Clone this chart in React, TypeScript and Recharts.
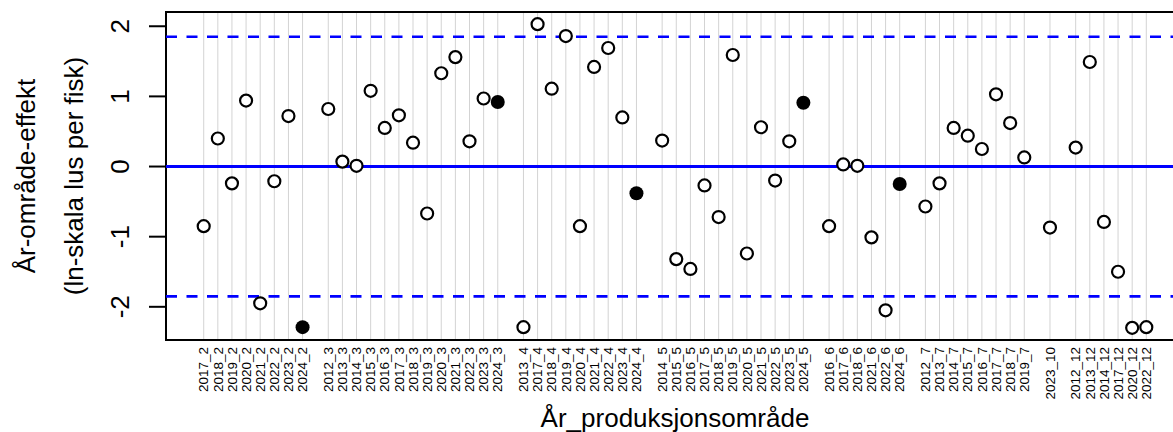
import React from "react";
import {
  CartesianGrid,
  Label,
  ReferenceArea,
  ReferenceLine,
  Scatter,
  ScatterChart,
  XAxis,
  YAxis,
} from "recharts";

// year_area labels, in plotting order
const labels = [
  "2017_2", "2018_2", "2019_2", "2020_2", "2021_2", "2022_2", "2023_2", "2024_2",
  "2012_3", "2013_3", "2014_3", "2015_3", "2016_3", "2017_3", "2018_3", "2019_3",
  "2020_3", "2021_3", "2022_3", "2023_3", "2024_3",
  "2013_4", "2017_4", "2018_4", "2019_4", "2020_4", "2021_4", "2022_4", "2023_4", "2024_4",
  "2014_5", "2015_5", "2016_5", "2017_5", "2018_5", "2019_5", "2020_5", "2021_5",
  "2022_5", "2023_5", "2024_5",
  "2016_6", "2017_6", "2018_6", "2021_6", "2022_6", "2024_6",
  "2012_7", "2013_7", "2014_7", "2015_7", "2016_7", "2017_7", "2018_7", "2019_7",
  "2023_10",
  "2012_12", "2013_12", "2014_12", "2017_12", "2020_12", "2022_12",
];

// estimated year-area effect (ln scale)
const effects = [
  -0.85, 0.40, -0.24, 0.94, -1.95, -0.21, 0.72, -2.29,
  0.82, 0.07, 0.01, 1.08, 0.55, 0.73, 0.34, -0.67,
  1.33, 1.56, 0.36, 0.97, 0.92,
  -2.29, 2.03, 1.11, 1.86, -0.85, 1.42, 1.69, 0.70, -0.38,
  0.37, -1.32, -1.46, -0.27, -0.72, 1.59, -1.24, 0.56,
  -0.20, 0.36, 0.91,
  -0.85, 0.03, 0.01, -1.01, -2.05, -0.25,
  -0.57, -0.24, 0.55, 0.44, 0.25, 1.03, 0.62, 0.13,
  -0.87,
  0.27, 1.49, -0.79, -1.50, -2.30, -2.29,
];

// current year, drawn as filled points
const highlighted = ["2024_2", "2024_3", "2024_4", "2024_5", "2024_6"];

const limitUpper = 1.85;
const limitLower = -1.85;
const yTicks = [-2, -1, 0, 1, 2];

const GROUP_GAP = 0.82;
const PLOT_LEFT = 166;
const PLOT_TOP = 12;
const PLOT_BOTTOM = 340;
const HEIGHT = 432;
const WIDTH = 1200;
const FONT = "'Liberation Sans', Arial, sans-serif";
const BLUE = "#0000ff";

// x positions: one unit per point, with extra space where the area changes
const positions: number[] = [];
labels.forEach((lab, i) => {
  if (i === 0) {
    positions.push(0);
    return;
  }
  const prevArea = labels[i - 1].split("_")[1];
  const area = lab.split("_")[1];
  positions.push(positions[i - 1] + 1 + (area !== prevArea ? GROUP_GAP : 0));
});

const data = labels.map((lab, i) => ({
  x: positions[i],
  y: effects[i],
  label: lab,
  filled: highlighted.includes(lab),
}));

// R-style 4% padding on both axes
const xMax = positions[positions.length - 1];
const xPad = xMax * 0.04;
const xDomain: [number, number] = [-xPad, xMax + xPad];
const yMin = Math.min(...effects);
const yMax = Math.max(...effects);
const yPad = (yMax - yMin) * 0.04;
const yDomain: [number, number] = [yMin - yPad, yMax + yPad];

const labelFor = (v: number) => labels[positions.indexOf(v)] ?? "";

function XTick(props: any) {
  const { x, payload } = props;
  const y = PLOT_BOTTOM + 7;
  return (
    <text
      x={x}
      y={y}
      dy="0.35em"
      transform={`rotate(-90, ${x}, ${y})`}
      textAnchor="end"
      fontSize={13.5}
      fontFamily={FONT}
      fill="#000"
    >
      {labelFor(payload.value)}
    </text>
  );
}

function YTick(props: any) {
  const { y, payload } = props;
  const x = PLOT_LEFT - 37;
  return (
    <text
      x={x}
      y={y}
      transform={`rotate(-90, ${x}, ${y})`}
      textAnchor="middle"
      fontSize={26}
      fontFamily={FONT}
      fill="#000"
    >
      {payload.value}
    </text>
  );
}

function YTitle() {
  const cy = (PLOT_TOP + PLOT_BOTTOM) / 2;
  return (
    <g fontFamily={FONT} fontSize={26} fill="#000">
      <text x={35} y={cy} transform={`rotate(-90, 35, ${cy})`} textAnchor="middle">
        År-område-effekt
      </text>
      <text x={83} y={cy} transform={`rotate(-90, 83, ${cy})`} textAnchor="middle">
        (ln-skala lus per fisk)
      </text>
    </g>
  );
}

function XTitle() {
  const cx = (PLOT_LEFT + WIDTH - 16) / 2;
  return (
    <text x={cx} y={427} textAnchor="middle" fontFamily={FONT} fontSize={26} fill="#000">
      År_produksjonsområde
    </text>
  );
}

function Point(props: any) {
  const { cx, cy, payload } = props;
  if (payload.filled) {
    return <circle cx={cx} cy={cy} r={7} fill="#000" />;
  }
  return <circle cx={cx} cy={cy} r={6} fill="#fff" stroke="#000" strokeWidth={2.2} />;
}

export default function App() {
  return (
    <div
      style={{
        position: "fixed",
        left: 0,
        top: 0,
        width: 1173,
        height: HEIGHT,
        overflow: "hidden",
        background: "#fff",
      }}
    >
      <ScatterChart
        width={WIDTH}
        height={HEIGHT}
        margin={{ top: PLOT_TOP, right: 16, bottom: 0, left: 0 }}
      >
        <CartesianGrid horizontal={false} stroke="#d3d3d3" strokeWidth={1} />
        <XAxis
          type="number"
          dataKey="x"
          domain={xDomain}
          ticks={positions}
          interval={0}
          height={HEIGHT - PLOT_BOTTOM}
          axisLine={false}
          tickLine={false}
          tick={<XTick />}
          allowDataOverflow
        >
          <Label content={<XTitle />} />
        </XAxis>
        <YAxis
          type="number"
          dataKey="y"
          domain={yDomain}
          ticks={yTicks}
          width={PLOT_LEFT}
          axisLine={false}
          tickSize={17}
          tickLine={{ stroke: "#000", strokeWidth: 2 }}
          tick={<YTick />}
          allowDataOverflow
        >
          <Label content={<YTitle />} />
        </YAxis>
        <ReferenceLine y={limitUpper} stroke={BLUE} strokeWidth={2.7} strokeDasharray="11 9.5" />
        <ReferenceLine y={0} stroke={BLUE} strokeWidth={3} />
        <ReferenceLine y={limitLower} stroke={BLUE} strokeWidth={2.7} strokeDasharray="11 9.5" />
        <ReferenceArea
          x1={xDomain[0]}
          x2={xDomain[1]}
          y1={yDomain[0]}
          y2={yDomain[1]}
          fill="none"
          stroke="#000"
          strokeWidth={2}
        />
        <Scatter data={data} shape={<Point />} isAnimationActive={false} />
      </ScatterChart>
    </div>
  );
}
